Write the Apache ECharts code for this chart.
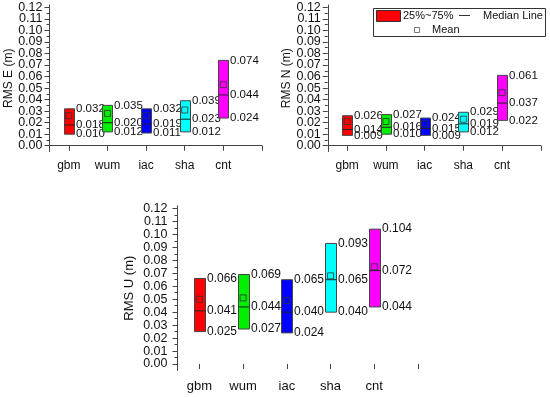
<!DOCTYPE html>
<html>
<head>
<meta charset="utf-8">
<script src="https://cdn.jsdelivr.net/npm/echarts@6/dist/echarts.min.js"></script>
<style>
html,body{margin:0;padding:0;background:#fff;}
#chart{width:550px;height:397px;}
</style>
</head>
<body>
<div id="chart"></div>
<script>
// ---------- data ----------
const categories = ['gbm', 'wum', 'iac', 'sha', 'cnt'];

const eQ1   = [0.010, 0.012, 0.011, 0.012, 0.024];
const eMed  = [0.018, 0.020, 0.019, 0.023, 0.044];
const eQ3   = [0.032, 0.035, 0.032, 0.039, 0.074];
const eMean = [0.026, 0.028, 0.026, 0.031, 0.053];

const nQ1   = [0.009, 0.010, 0.009, 0.012, 0.022];
const nMed  = [0.014, 0.016, 0.015, 0.019, 0.037];
const nQ3   = [0.026, 0.027, 0.024, 0.029, 0.061];
const nMean = [0.021, 0.021, 0.019, 0.023, 0.046];

const uQ1   = [0.025, 0.027, 0.024, 0.040, 0.044];
const uMed  = [0.041, 0.044, 0.040, 0.065, 0.072];
const uQ3   = [0.066, 0.069, 0.065, 0.093, 0.104];
const uMean = [0.050, 0.051, 0.049, 0.068, 0.075];

const yTickValues = [0, 0.01, 0.02, 0.03, 0.04, 0.05, 0.06, 0.07, 0.08, 0.09, 0.10, 0.11, 0.12];
const yTickLabels = ['0.00', '0.01', '0.02', '0.03', '0.04', '0.05', '0.06', '0.07', '0.08', '0.09', '0.10', '0.11', '0.12'];
const yMinorValues = [0.005, 0.015, 0.025, 0.035, 0.045, 0.055, 0.065, 0.075, 0.085, 0.095, 0.105, 0.115];
const xTickValues = [1, 2, 3, 4, 5, 6];
const xLabelValues = [1, 2, 3, 4, 5];
const axisTitles = ['RMS E (m)', 'RMS N (m)', 'RMS U (m)'];
const legendTexts = ['25%~75%', 'Median Line', 'Mean'];

// labels split into two alternating sets so none gets auto-hidden
const yLabelsEven = yTickValues.filter((v, i) => i % 2 === 0);
const yLabelsOdd = yTickValues.filter((v, i) => i % 2 === 1);

// ---------- style ----------
const colors = ['#ff0000', '#00ee00', '#0000ff', '#00ffff', '#ff00ff'];
const FONT = '"Liberation Sans", Arial, sans-serif';
const AX = '#444';

const panels = [
  {q1: eQ1, med: eMed, q3: eQ3, mean: eMean, grid: {left: 49.5, top: 5, width: 212.5, height: 146.5},
   boxW: 10, lblSize: 11.5, yLblSize: 12.5, catSize: 12, titleSize: 12, nameGap: 35, showXLine: true, yMargin: 7, catMargin: 8},
  {q1: nQ1, med: nMed, q3: nQ3, mean: nMean, grid: {left: 327.8, top: 5, width: 213, height: 146.5},
   boxW: 10, lblSize: 11.5, yLblSize: 12.5, catSize: 12, titleSize: 12, nameGap: 35, showXLine: true, yMargin: 7, catMargin: 8},
  {q1: uQ1, med: uMed, q3: uQ3, mean: uMean, grid: {left: 177.5, top: 205.8, width: 240.5, height: 164.7},
   boxW: 11, lblSize: 12, yLblSize: 12.5, catSize: 13, titleSize: 13, nameGap: 42, showXLine: false, yMargin: 10, catMargin: 9}
];

const fmt = v => v.toFixed(3);

const grids = [], xAxes = [], yAxes = [], series = [];
panels.forEach((p, g) => {
  grids.push(Object.assign({containLabel: false, outerBoundsMode: 'none'}, p.grid));
  xAxes.push({
    type: 'value', gridIndex: g, min: 0.5, max: 6,
    axisLine: {show: p.showXLine, lineStyle: {color: AX, width: 1}},
    axisTick: {show: true, customValues: xTickValues, length: 5, lineStyle: {color: AX}},
    axisLabel: {customValues: xLabelValues, formatter: v => categories[Math.round(v) - 1] || '',
      color: '#111', fontSize: p.catSize, fontFamily: FONT, margin: p.catMargin},
    splitLine: {show: false}
  });
  const yLabelCommon = {
    formatter: v => yTickLabels[Math.round(v * 100)],
    showMinLabel: true, showMaxLabel: true, hideOverlap: false,
    color: '#111', fontSize: p.yLblSize, fontFamily: FONT, margin: p.yMargin
  };
  yAxes.push({
    type: 'value', gridIndex: g, position: 'left', min: -0.005, max: 0.122,
    name: axisTitles[g], nameLocation: 'middle', nameGap: p.nameGap, nameRotate: 90,
    nameTextStyle: {color: '#111', fontSize: p.titleSize, fontFamily: FONT},
    axisLine: {show: true, onZero: false, lineStyle: {color: AX, width: 1}},
    axisTick: {show: true, customValues: yTickValues, length: 5, lineStyle: {color: AX}},
    axisLabel: Object.assign({customValues: yLabelsEven}, yLabelCommon),
    splitLine: {show: false}
  });
  yAxes.push({
    type: 'value', gridIndex: g, position: 'left', min: -0.005, max: 0.122,
    axisLine: {show: false},
    axisTick: {show: true, customValues: yMinorValues, length: 3, lineStyle: {color: AX}},
    axisLabel: Object.assign({customValues: yLabelsOdd}, yLabelCommon),
    splitLine: {show: false}
  });
  const bw = p.boxW, fs = p.lblSize;
  series.push({
    type: 'custom', xAxisIndex: g, yAxisIndex: g * 2, clip: false, silent: true,
    data: categories.map((c, i) => [i + 1, p.q1[i], p.med[i], p.q3[i]]),
    renderItem: (params, api) => {
      const x = api.value(0);
      const lo = api.coord([x, api.value(1)]);
      const md = api.coord([x, api.value(2)]);
      const hi = api.coord([x, api.value(3)]);
      const left = Math.round(lo[0] - bw / 2) + 0.5;
      const tx = left + bw + 1.5;
      const txt = (y, v) => ({type: 'text', x: tx, y: y,
        style: {text: fmt(v), fill: '#111', fontSize: fs, fontFamily: FONT, align: 'left', verticalAlign: 'middle'}});
      return {type: 'group', children: [
        {type: 'rect', shape: {x: left, y: hi[1], width: bw, height: lo[1] - hi[1]},
          style: {fill: colors[params.dataIndex], stroke: '#444', lineWidth: 1}},
        {type: 'line', shape: {x1: left, y1: md[1], x2: left + bw, y2: md[1]},
          style: {stroke: '#222', lineWidth: 1}},
        txt(hi[1], api.value(3)), txt(md[1], api.value(2)), txt(lo[1], api.value(1))
      ]};
    }
  });
  series.push({
    type: 'scatter', xAxisIndex: g, yAxisIndex: g * 2, silent: true, z: 5,
    symbol: 'rect', symbolSize: 6,
    itemStyle: {color: 'rgba(0,0,0,0)', borderColor: '#333', borderWidth: 1},
    data: categories.map((c, i) => [i + 1, p.mean[i]])
  });
});

const chart = echarts.init(document.getElementById('chart'), null, {renderer: 'canvas'});
chart.setOption({
  animation: false,
  backgroundColor: '#fff',
  grid: grids, xAxis: xAxes, yAxis: yAxes, series: series,
  graphic: [
    {type: 'rect', z: 100, shape: {x: 373.5, y: 8.5, width: 172, height: 28}, style: {fill: '#fff', stroke: '#333', lineWidth: 1}},
    {type: 'rect', z: 101, shape: {x: 376.5, y: 10.5, width: 24, height: 11}, style: {fill: '#ff0000', stroke: '#333', lineWidth: 1}},
    {type: 'text', z: 101, x: 403, y: 16, style: {text: legendTexts[0], fill: '#111', fontSize: 11, fontFamily: FONT, verticalAlign: 'middle'}},
    {type: 'line', z: 101, shape: {x1: 459, y1: 15.5, x2: 470, y2: 15.5}, style: {stroke: '#333', lineWidth: 1}},
    {type: 'text', z: 101, x: 483, y: 16, style: {text: legendTexts[1], fill: '#111', fontSize: 11, fontFamily: FONT, verticalAlign: 'middle'}},
    {type: 'rect', z: 101, shape: {x: 414.5, y: 27.5, width: 5, height: 5}, style: {fill: 'none', stroke: '#777', lineWidth: 1}},
    {type: 'text', z: 101, x: 432, y: 30, style: {text: legendTexts[2], fill: '#111', fontSize: 11, fontFamily: FONT, verticalAlign: 'middle'}}
  ]
});
</script>
</body>
</html>
